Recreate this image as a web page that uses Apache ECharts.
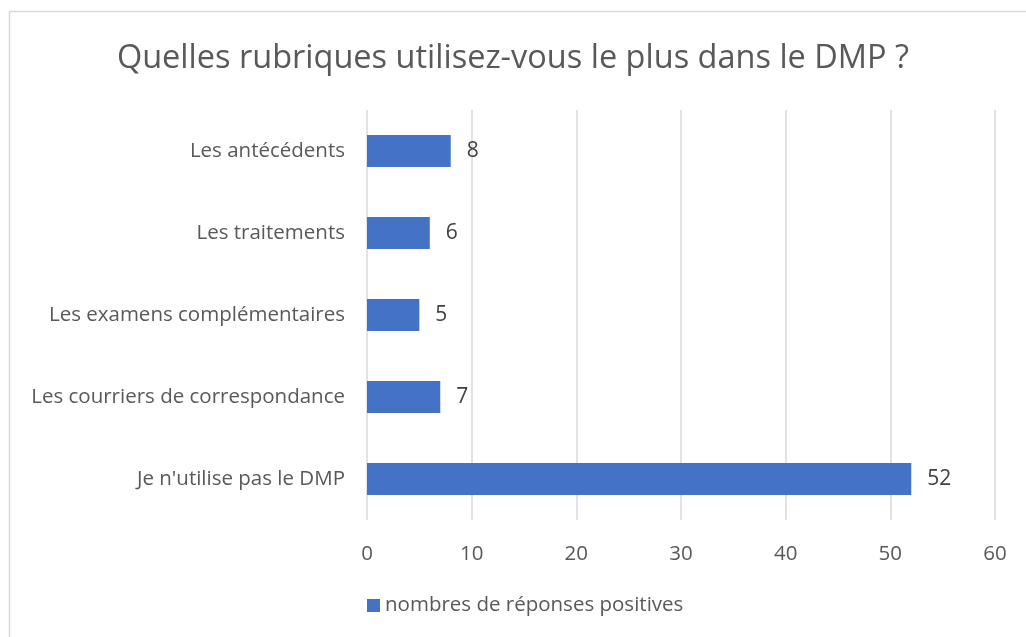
<!DOCTYPE html>
<html><head><meta charset="utf-8">
<script src="https://cdn.jsdelivr.net/npm/echarts@6/dist/echarts.min.js"></script>
<style>html,body{margin:0;padding:0;background:#fff}#c{width:1026px;height:637px}</style>
</head><body><div id="c"></div>
<script>
const categories = ["Je n'utilise pas le DMP", "Les courriers de correspondance", "Les examens complémentaires", "Les traitements", "Les antécédents"];
const values = [52, 7, 5, 6, 8];
const seriesName = "nombres de réponses positives";
const titleText = "Quelles rubriques utilisez-vous le plus dans le DMP ?";
const FONT = "'Open Sans', sans-serif";
const chart = echarts.init(document.getElementById('c'), null, {renderer: 'canvas'});
chart.setOption({
  animation: false,
  backgroundColor: '#fff',
  graphic: [{type: 'rect', shape: {x: 9.5, y: 11.5, width: 1100, height: 700}, style: {fill: 'none', stroke: '#d9d9d9', lineWidth: 1.5}, silent: true, z: -1}],
  title: {text: titleText, left: 'center', top: 37, textStyle: {fontFamily: FONT, fontSize: 32.5, fontWeight: 'normal', color: '#595959'}},
  legend: {bottom: 16, left: 362, itemWidth: 13, itemHeight: 13, itemGap: 6, icon: 'rect', textStyle: {fontFamily: FONT, fontSize: 20.5, color: '#595959'}, data: [seriesName]},
  grid: {left: 367, right: 31, top: 110, bottom: 117, containLabel: false},
  xAxis: {type: 'value', min: 0, max: 60, interval: 10,
    axisLine: {show: false}, axisTick: {show: false},
    splitLine: {lineStyle: {color: '#d9d9d9', width: 1.5}},
    axisLabel: {fontFamily: FONT, fontSize: 20.5, color: '#595959', margin: 24}},
  yAxis: {type: 'category', data: categories,
    axisLine: {show: false}, axisTick: {show: false},
    axisLabel: {fontFamily: FONT, fontSize: 20.5, color: '#595959', margin: 22}},
  series: [{name: seriesName, type: 'bar', data: values, barWidth: 32,
    itemStyle: {color: '#4472c4'},
    label: {show: true, position: 'right', distance: 16, fontFamily: FONT, fontSize: 21, color: '#404040'}}]
});
</script></body></html>
